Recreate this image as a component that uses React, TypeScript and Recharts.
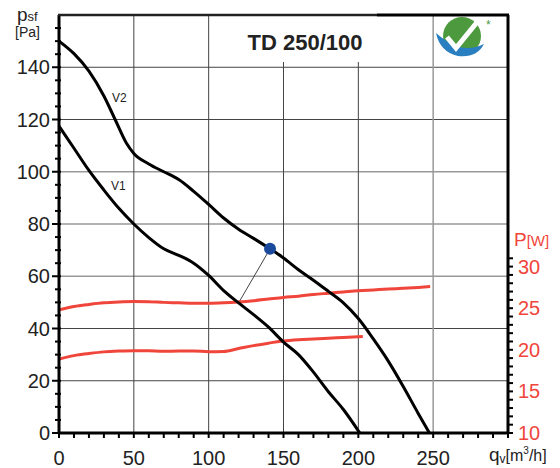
import { LineChart, Line, XAxis, YAxis, ReferenceLine, ReferenceDot } from 'recharts'

// axis ticks
const flowTicks = [0, 10, 20, 30, 40, 50, 60, 70, 80, 90, 100, 110, 120, 130, 140, 150, 160, 170, 180, 190, 200, 210, 220, 230, 240, 250, 260, 270, 280, 290, 300]
const flowLabels = [0, 50, 100, 150, 200, 250]
const pressureTicks = [0, 5, 10, 15, 20, 25, 30, 35, 40, 45, 50, 55, 60, 65, 70, 75, 80, 85, 90, 95, 100, 105, 110, 115, 120, 125, 130, 135, 140, 145, 150, 155]
const pressureLabels = [0, 20, 40, 60, 80, 100, 120, 140]
const powerTicks = [10, 11, 12, 13, 14, 15, 16, 17, 18, 19, 20, 21, 22, 23, 24, 25, 26, 27, 28, 29, 30, 31]
const powerLabels = [10, 15, 20, 25, 30]

// grid
const darkGridFlow = [50, 100]
const shortGridFlow = [150, 200]
const lightGridFlow = [250]
const darkGridPressure = [20, 40, 120, 140]
const lightGridPressure = [60, 80, 100]

// V2 pressure curve
const v2Flow = [0, 10, 20, 30, 37.5, 45, 50, 60, 70, 80, 90, 100, 110, 120, 130, 141, 150, 160, 170, 180, 190, 200, 210, 220, 230, 240, 247.5]
const v2Pressure = [150, 145.2, 138.5, 129, 120, 111, 107, 103, 100, 97, 92.5, 87.5, 82.3, 78, 74.5, 70.5, 67, 62.5, 58.5, 54.2, 49.8, 43.8, 36, 27.5, 17.8, 7.5, 0]

// V1 pressure curve
const v1Flow = [0, 10, 20, 30, 40, 50, 60, 70, 80, 90, 100, 110, 120, 130, 140, 150, 160, 170, 180, 190, 201]
const v1Pressure = [117.5, 109, 100.5, 93, 86, 80, 74.8, 70.5, 68, 65, 60.3, 54.5, 49.8, 45.3, 40.5, 34.8, 30, 23.3, 15.8, 9, 0]

// power curves [W]
const p2Flow = [0, 10, 20, 30, 40, 50, 60, 70, 80, 90, 100, 110, 120, 130, 140, 150, 160, 170, 180, 190, 200, 210, 220, 230, 240, 248]
const p2Power = [24.8, 25.2, 25.45, 25.65, 25.75, 25.8, 25.78, 25.7, 25.65, 25.6, 25.6, 25.65, 25.75, 25.9, 26.1, 26.3, 26.45, 26.65, 26.8, 26.95, 27.1, 27.2, 27.3, 27.4, 27.5, 27.6]
const p1Flow = [0, 10, 20, 30, 40, 50, 60, 70, 80, 90, 100, 110, 120, 130, 140, 150, 160, 170, 180, 190, 203]
const p1Power = [18.9, 19.3, 19.55, 19.75, 19.85, 19.9, 19.88, 19.82, 19.85, 19.85, 19.78, 19.8, 20.15, 20.5, 20.8, 21.05, 21.2, 21.3, 21.4, 21.48, 21.6]

// operating point
const pointFlow = 141
const pointPressure = 70.5
const anchorFlow = 120
const anchorPressure = 49.8

const zip = (xs: number[], ys: number[]) => xs.map((q, i) => ({ q, v: ys[i] }))

const RED = '#f0453a'
const FONT = '"Liberation Sans", Arial, sans-serif'

const LeftTick = ({ x, y, payload }: any) => {
  const major = pressureLabels.includes(payload.value)
  return (
    <g>
      <line x1={major ? x - 7 : x - 4} x2={x + 2} y1={y} y2={y} stroke="#000" strokeWidth={2} />
      {major && (
        <text x={x - 9} y={y} textAnchor="end" dominantBaseline="central" fontSize={20} fill="#222" fontFamily={FONT}>
          {payload.value}
        </text>
      )}
    </g>
  )
}

const RightTick = ({ x, y, payload }: any) => {
  const major = powerLabels.includes(payload.value)
  return (
    <g>
      <line x1={x - 1} x2={x + 5} y1={y} y2={y} stroke="#000" strokeWidth={2} />
      {major && (
        <text x={x + 10} y={y} textAnchor="start" dominantBaseline="central" fontSize={20} fill={RED} fontFamily={FONT}>
          {payload.value}
        </text>
      )}
    </g>
  )
}

const BottomTick = ({ x, y, payload }: any) => {
  const major = flowLabels.includes(payload.value)
  return (
    <g>
      <line x1={x} x2={x} y1={y - 1} y2={y + 5} stroke="#000" strokeWidth={2} />
      {major && (
        <text x={x} y={y + 25} textAnchor="middle" dominantBaseline="central" fontSize={20} fill="#222" fontFamily={FONT}>
          {payload.value}
        </text>
      )}
    </g>
  )
}

function tickOf(Comp: any) {
  return (props: any) => <Comp {...props} />
}

export default function App() {
  return (
    <div style={{ position: 'absolute', left: 0, top: 0, width: 560, height: 468, background: '#fff' }}>
      <LineChart width={560} height={468} margin={{ top: 15, right: 0, bottom: 0, left: 0 }}>
        <XAxis
          type="number"
          dataKey="q"
          domain={[0, 300]}
          ticks={flowTicks}
          interval={0}
          tickSize={0}
          tickMargin={0}
          height={35}
          tick={tickOf(BottomTick)}
          axisLine={{ stroke: '#000', strokeWidth: 3 }}
          allowDataOverflow
        />
        <YAxis
          yAxisId="pa"
          type="number"
          domain={[0, 160]}
          ticks={pressureTicks}
          interval={0}
          tickSize={0}
          tickMargin={0}
          width={59}
          tick={tickOf(LeftTick)}
          axisLine={{ stroke: '#000', strokeWidth: 3 }}
          allowDataOverflow
        />
        <YAxis
          yAxisId="w"
          orientation="right"
          type="number"
          domain={[10, 60.24]}
          ticks={powerTicks}
          interval={0}
          tickSize={0}
          tickMargin={0}
          width={52}
          tick={tickOf(RightTick)}
          axisLine={{ stroke: '#000', strokeWidth: 3 }}
          allowDataOverflow
        />
        {darkGridPressure.map((p) => (
          <ReferenceLine key={'dp' + p} yAxisId="pa" y={p} stroke="#444" strokeWidth={1} />
        ))}
        {lightGridPressure.map((p) => (
          <ReferenceLine key={'lp' + p} yAxisId="pa" y={p} stroke="#999" strokeWidth={1.5} />
        ))}
        {darkGridFlow.map((q) => (
          <ReferenceLine key={'dq' + q} yAxisId="pa" x={q} stroke="#444" strokeWidth={1} />
        ))}
        {shortGridFlow.map((q) => (
          <ReferenceLine
            key={'sq' + q}
            yAxisId="pa"
            segment={[{ x: q, y: 0 }, { x: q, y: 142 }]}
            stroke="#444"
            strokeWidth={1}
          />
        ))}
        {lightGridFlow.map((q) => (
          <ReferenceLine key={'lq' + q} yAxisId="pa" x={q} stroke="#999" strokeWidth={1.5} />
        ))}
        <ReferenceLine
          yAxisId="pa"
          segment={[{ x: anchorFlow, y: anchorPressure }, { x: pointFlow, y: pointPressure }]}
          stroke="#444"
          strokeWidth={1}
        />
        <Line yAxisId="w" data={zip(p2Flow, p2Power)} dataKey="v" type="monotone" stroke={RED} strokeWidth={3} dot={false} isAnimationActive={false} />
        <Line yAxisId="w" data={zip(p1Flow, p1Power)} dataKey="v" type="monotone" stroke={RED} strokeWidth={3} dot={false} isAnimationActive={false} />
        <Line yAxisId="pa" data={zip(v2Flow, v2Pressure)} dataKey="v" type="monotone" stroke="#000" strokeWidth={3} dot={false} isAnimationActive={false} />
        <Line yAxisId="pa" data={zip(v1Flow, v1Pressure)} dataKey="v" type="monotone" stroke="#000" strokeWidth={3} dot={false} isAnimationActive={false} />
        <ReferenceDot yAxisId="pa" x={pointFlow} y={pointPressure} r={6} fill="#1b4a9c" stroke="none" />
      </LineChart>
      <svg width={560} height={468} style={{ position: 'absolute', left: 0, top: 0, pointerEvents: 'none' }} fontFamily={FONT}>
        {/* top frame */}
        <path d="M58,15 L377,15" stroke="#222" strokeWidth={2.5} fill="none" />
        <path d="M377,15 L509,15" stroke="#000" strokeWidth={3} fill="none" />
        <text x={305} y={50} textAnchor="middle" fontSize={22} fontWeight="bold" fill="#222">TD 250/100</text>
        <text x={112} y={102} fontSize={12} fill="#222">V2</text>
        <text x={111} y={190} fontSize={12} fill="#222">V1</text>
        <text x={17} y={21} fontSize={19} fill="#222">p<tspan fontSize={13}>sf</tspan></text>
        <text x={15} y={37} fontSize={14} fill="#222">[Pa]</text>
        <text x={514} y={246} fontSize={19} fill={RED}>P<tspan fontSize={15}>[W]</tspan></text>
        <text x={489} y={461} fontSize={19} fill="#222">q<tspan fontSize={12} dy={2}>v</tspan><tspan fontSize={16} dy={-2}>[m</tspan><tspan fontSize={10} dy={-7}>3</tspan><tspan fontSize={16} dy={7}>/h]</tspan></text>
        <g>
          <circle cx={462} cy={36} r={19} fill="#4d9a3e" />
          <path d="M436,33 Q440,52 458,56 Q477,58 484,44 Q470,51 456,46 Q445,41 436,33 Z" fill="#2a7fc0" />
          <polyline points="447,37 456,48 478,21" fill="none" stroke="#fff" strokeWidth={5} />
          <text x={486} y={29} fontSize={12} fill="#4d9a3e">*</text>
        </g>
      </svg>
    </div>
  )
}
